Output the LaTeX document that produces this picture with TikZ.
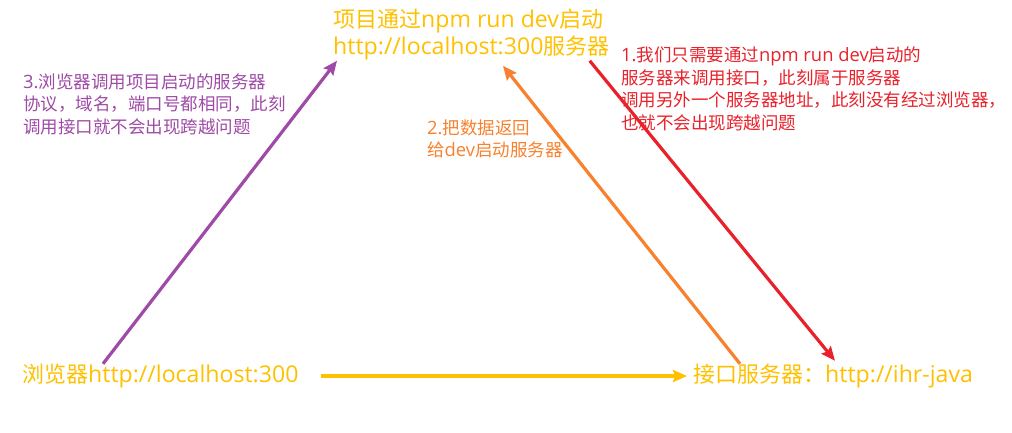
\documentclass[tikz,border=0pt]{standalone}
\usepackage{fontspec}
\setmainfont{Open Sans}[Scale=1.05]
\newfontfamily\cjk{Noto Sans CJK SC}
\newcommand{\zh}[1]{{\cjk #1}}
\usetikzlibrary{arrows.meta,positioning,calc}
\definecolor{devyellow}{HTML}{FFC000}
\definecolor{devpurple}{HTML}{9E4AA6}
\definecolor{devorange}{HTML}{F7812E}
\definecolor{devred}{HTML}{E8212B}

\begin{document}
\begin{tikzpicture}[x=1pt, y=1pt,
  site/.style={inner sep=0pt, anchor=base west, align=left, text=devyellow,
               font=\fontsize{22}{27}\selectfont},
  note/.style={inner sep=0pt, anchor=base west, align=left,
               font=\fontsize{17.5}{22.5}\selectfont},
  arr/.style={-{Stealth[length=14pt,width=12pt,inset=2pt]}, line width=3.2pt}
]
\useasboundingbox (0,0) rectangle (1012,432);

% servers
\node[site] (dev) at (333,377) {\zh{项目通过}npm run dev\zh{启动}\\http://localhost:300\zh{服务器}};
\node[site] (browser) at (22,49.5) {\zh{浏览器}http://localhost:300};
\node[site] (api) at (693,49.5) {\zh{接口服务器：}http://ihr-java};

% notes
\node[note, text=devred] (step1) at (621,302.5) {1.\zh{我们只需要通过}npm run dev\zh{启动的}\\
  \zh{服务器来调用接口，此刻属于服务器}\\
  \zh{调用另外一个服务器地址，此刻没有经过浏览器，}\\
  \zh{也就不会出现跨越问题}};
\node[note, text=devorange] (step2) at (427,275.5) {2.\zh{把数据返回}\\\zh{给}dev\zh{启动服务器}};
\node[note, text=devpurple] (step3) at (23,298.5) {3.\zh{浏览器调用项目启动的服务器}\\
  \zh{协议，域名，端口号都相同，此刻}\\
  \zh{调用接口就不会出现跨越问题}};

% requests
\draw[arr, devyellow] ([xshift=22pt]browser.east) -- ([xshift=-6pt]api.west);
\draw[arr, devpurple] ([xshift=81pt]browser.north west) -- ([xshift=4pt]dev.south west);
\draw[arr, devred] ([xshift=-20pt]dev.south east) -- ([xshift=142pt,yshift=3pt]api.north west);
\draw[arr, devorange] ([xshift=47pt]api.north west) -- ([xshift=170pt,yshift=-5pt]dev.south west);
\end{tikzpicture}
\end{document}
